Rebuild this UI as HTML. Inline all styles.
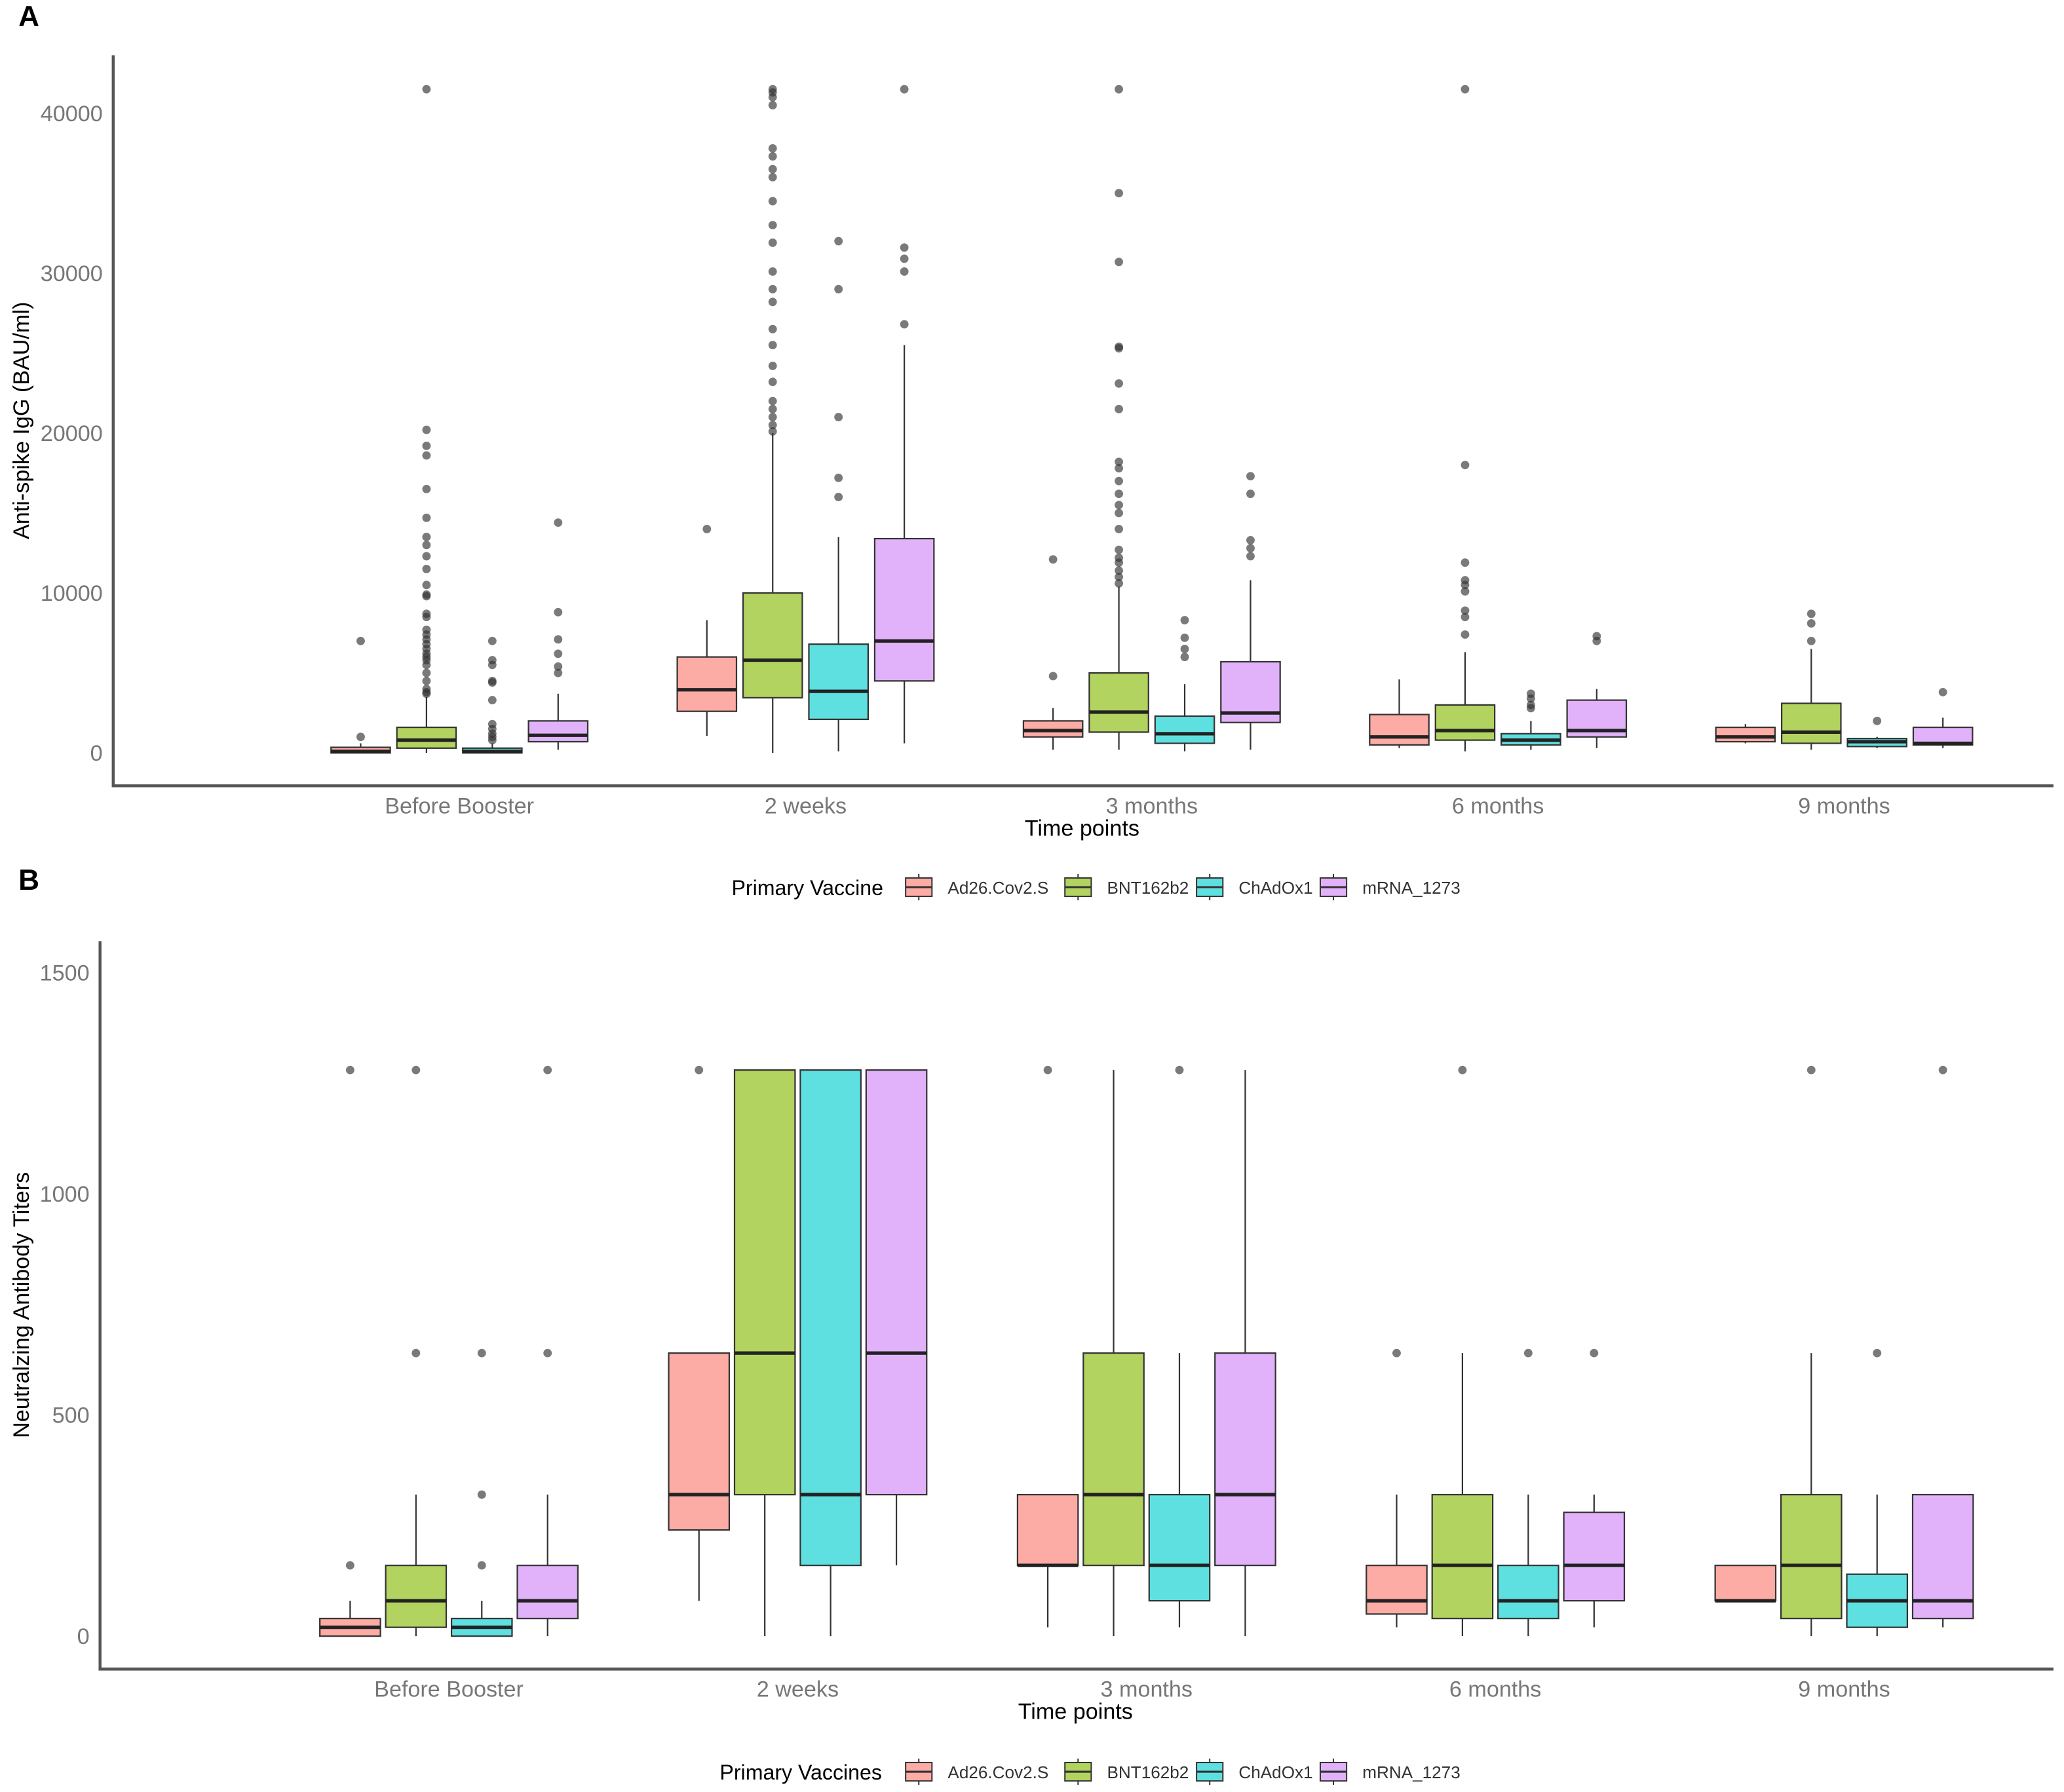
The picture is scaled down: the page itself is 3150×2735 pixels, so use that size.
<!DOCTYPE html>
<html><head><meta charset="utf-8"><style>
html,body{margin:0;padding:0;background:#fff}
svg{display:block}
text{font-family:"Liberation Sans",sans-serif}
</style></head><body>
<svg id="fig" width="3150" height="2735" viewBox="0 0 1568 1361.4" preserveAspectRatio="none" xmlns="http://www.w3.org/2000/svg"></svg>
<script>
const categories=["Before Booster","2 weeks","3 months","6 months","9 months"];
const groups=["Ad26.Cov2.S","BNT162b2","ChAdOx1","mRNA_1273"];
const colors=["#fcaba5","#b2d35f","#5fe0e0","#e1b2fa"];
const ticksA=[0,10000,20000,30000,40000];
const ticksB=[0,500,1000,1500];
// [lo,q1,med,q3,hi]
const statsA=[
[[0,0,100,350,600],[0,300,800,1600,3500],[0,0,100,300,600],[200,700,1100,2000,3700]],
[[1070,2600,3950,6000,8300],[0,3450,5800,10000,20000],[100,2100,3850,6800,13500],[600,4500,7000,13400,25500]],
[[200,1000,1400,2000,2800],[200,1300,2550,5000,10400],[100,600,1200,2300,4300],[200,1900,2500,5700,10800]],
[[300,500,1000,2400,4600],[100,800,1400,3000,6300],[200,500,800,1200,2000],[300,1000,1400,3300,4000]],
[[600,700,1000,1600,1800],[200,600,1300,3100,6500],[300,400,700,900,1000],[300,500,600,1600,2200]]];
const outA=[
[[1000,7000],[41500,20200,19200,18600,16500,14700,13500,13000,12300,11500,10500,9900,9800,8700,8500,7700,7400,7100,6800,6500,6200,6000,5800,5500,5000,4500,4000,3800,3700],[7000,5800,5500,4500,4400,3300,1800,1500,1200,1000,800],[14400,8800,7100,6200,5400,5000]],
[[14000],[41500,41300,41000,40500,37800,37300,36500,36000,34500,33000,31900,30100,29000,28200,26500,25500,24200,23200,22000,21500,21000,20500,20100],[32000,29000,21000,17200,16000],[41500,31600,30900,30100,26800]],
[[4800,12100],[41500,35000,30700,25400,25300,23100,21500,18200,17800,17000,16200,15500,15000,14000,12700,12200,11900,11400,11000,10600],[8300,7200,6500,6000],[17300,16200,13300,12800,12300]],
[[],[41500,18000,11900,10800,10500,10100,8900,8500,7400],[3700,3400,3000,2800],[7300,7000]],
[[],[8700,8100,7000],[2000],[3800]]];
const statsB=[
[[0,0,20,40,80],[0,20,80,160,320],[0,0,20,40,80],[0,40,80,160,320]],
[[80,240,320,640,640],[0,320,640,1280,1280],[0,160,320,1280,1280],[160,320,640,1280,1280]],
[[20,160,160,320,320],[0,160,320,640,1280],[20,80,160,320,640],[0,160,320,640,1280]],
[[20,50,80,160,320],[0,40,160,320,640],[0,40,80,160,320],[20,80,160,280,320]],
[[80,80,80,160,160],[0,40,160,320,640],[0,20,80,140,320],[20,40,80,320,320]]];
const outB=[
[[160,1280],[640,1280],[160,320,640],[640,1280]],
[[1280],[],[],[]],
[[1280],[],[1280],[]],
[[640],[1280],[640],[640]],
[[],[1280],[640],[1280]]];

const NS="http://www.w3.org/2000/svg";
const svg=document.getElementById("fig");
function mk(tag,attrs,parent,txt){const e=document.createElementNS(NS,tag);for(const k in attrs)e.setAttribute(k,attrs[k]);if(txt!==undefined)e.textContent=txt;(parent||svg).appendChild(e);return e;}

function panel(cfg){
  const g=mk("g",{});
  
  
  const y=v=>cfg.y0-(v/cfg.unit)*cfg.unitPx;
  const x=(ci,gi)=>cfg.c0+ci*cfg.cs+(gi-1.5)*cfg.gs;
  const L=mk("text",{x:14,y:cfg.letterY,"font-size":22,"font-weight":"bold",fill:"#000"},g,cfg.letter);
  
  
  cfg.ticks.forEach(t=>{
    const tt=mk("text",{x:cfg.axX-8,y:y(t)+6,"font-size":17,fill:"#777","text-anchor":"end"},g,String(t));
    
    
  });
  categories.forEach((c,ci)=>{
    const tt=mk("text",{x:cfg.c0+ci*cfg.cs,y:cfg.axY+21,"font-size":17,fill:"#777","text-anchor":"middle"},g,c);
    
    
    for(let gi=0;gi<4;gi++){
      const s=cfg.stats[ci][gi],cx=x(ci,gi),w=cfg.bw;
      const bg=mk("g",{},g);
      
      
      mk("line",{x1:cx,x2:cx,y1:y(s[0]),y2:y(s[1]),stroke:"#333","stroke-width":1.1},bg);
      mk("line",{x1:cx,x2:cx,y1:y(s[3]),y2:y(s[4]),stroke:"#333","stroke-width":1.1},bg);
      mk("rect",{x:cx-w/2,y:y(s[3]),width:w,height:Math.max(1,y(s[1])-y(s[3])),fill:colors[gi],stroke:"#333","stroke-width":1.1},bg);
      mk("line",{x1:cx-w/2,x2:cx+w/2,y1:y(s[2]),y2:y(s[2]),stroke:"#222","stroke-width":2.6},bg);
      cfg.out[ci][gi].forEach(v=>{
        const p=mk("circle",{cx:cx,cy:y(v),r:3.2,fill:"#333","fill-opacity":0.65},bg);
        
        
      });
    }
  });
  const ax=mk("path",{d:`M${cfg.axX},${cfg.axTop}V${cfg.axY}H1560`,fill:"none",stroke:"#555","stroke-width":2.2},g);
  
  
  const xt=mk("text",{x:cfg.xtX,y:cfg.axY+38,"font-size":17,fill:"#000","text-anchor":"middle"},g,"Time points");
  
  
  const my=(cfg.axTop+cfg.axY)/2;
  const yt=mk("text",{x:22,y:my,"font-size":17,fill:"#000","text-anchor":"middle",transform:`rotate(-90 22 ${my})`},g,cfg.ytitle);
  
  
  const lg=mk("g",{},g);
  
  
  mk("text",{x:cfg.legTitleX,y:cfg.legY+6,"font-size":16,fill:"#000","text-anchor":"end"},lg,cfg.legTitle);
  const kx=[688,809,909,1003];
  groups.forEach((gn,gi)=>{
    const e=mk("g",{},lg);
    
    
    mk("line",{x1:kx[gi]+10,x2:kx[gi]+10,y1:cfg.legY-10,y2:cfg.legY+10,stroke:"#333","stroke-width":1},e);
    mk("rect",{x:kx[gi],y:cfg.legY-7,width:20,height:14,fill:colors[gi],stroke:"#333","stroke-width":1},e);
    mk("line",{x1:kx[gi],x2:kx[gi]+20,y1:cfg.legY,y2:cfg.legY,stroke:"#333","stroke-width":1.5},e);
    mk("text",{x:kx[gi]+32,y:cfg.legY+5,"font-size":13,fill:"#333"},e,gn);
  });
}
panel({name:"panel-a-anti-spike",letter:"A",letterY:20,y0:572,unit:10000,unitPx:121.5,ticks:ticksA,stats:statsA,out:outA,
  c0:349,cs:263,gs:50,bw:45,axX:86,axTop:42,axY:597,xtX:822,ytitle:"Anti-spike IgG (BAU/ml)",legTitle:"Primary Vaccine",legTitleX:671,legY:674});
panel({name:"panel-b-neutralizing",letter:"B",letterY:676,y0:1243,unit:500,unitPx:168,ticks:ticksB,stats:statsB,out:outB,
  c0:341,cs:265,gs:50,bw:46,axX:76,axTop:715,axY:1268,xtX:817,ytitle:"Neutralzing Antibody Titers",legTitle:"Primary Vaccines",legTitleX:670,legY:1346});
</script>
</body></html>
